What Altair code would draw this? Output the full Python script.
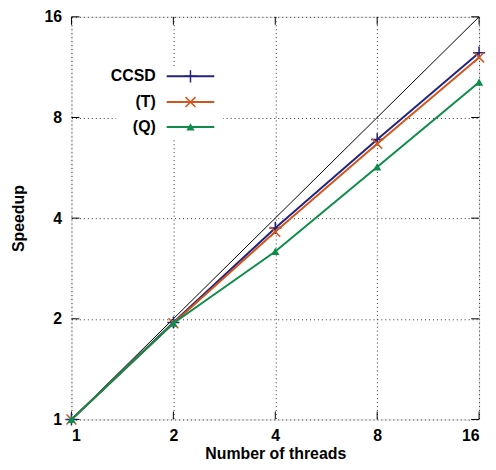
import altair as alt
import pandas as pd

threads = [1, 2, 4, 8, 16]
ccsd = [1.0, 1.95, 3.74, 6.88, 12.5]
t_vals = [1.0, 1.94, 3.64, 6.68, 12.1]
q_vals = [1.0, 1.94, 3.18, 5.69, 10.2]
series_names = ["CCSD", "(T)", "(Q)"]
series_values = [ccsd, t_vals, q_vals]
colors = ["#24247e", "#d2561c", "#0e8c4a"]
ideal_x = [1, 16]
ideal_y = [1, 16]
tick_values = [1, 2, 4, 8, 16]

W, H = 411, 406
FONT = "Liberation Sans"

plus_path = "M-1,0L1,0M0,-1L0,1"
x_path = "M-1,-1L1,1M-1,1L1,-1"
shapes = [plus_path, x_path, "triangle-up"]
filled = [False, False, True]
sizes = [150, 100, 70]

xscale = alt.Scale(type="log", base=2, domain=[1, 16], nice=False)
yscale = alt.Scale(type="log", base=2, domain=[1, 16], nice=False)

common_axis = dict(values=tick_values, format="d", grid=True, gridDash=[1, 3],
                   gridColor="#333", gridWidth=1, tickSize=0, domain=False,
                   labelFont=FONT, labelFontSize=16, labelFontWeight="bold",
                   labelColor="black", titleFont=FONT, titleFontSize=16,
                   titleFontWeight="bold", titleColor="black")

xaxis = alt.Axis(title="Number of threads", labelPadding=8, titlePadding=2, **common_axis)
yaxis = alt.Axis(title="Speedup", labelPadding=10, titlePadding=18, **common_axis)

ideal_df = pd.DataFrame({"threads": ideal_x, "speedup": ideal_y})
base_ideal = alt.Chart(ideal_df).mark_line(color="black", strokeWidth=1).encode(
    x=alt.X("threads:Q", scale=xscale, axis=xaxis),
    y=alt.Y("speedup:Q", scale=yscale, axis=yaxis),
)

layers = [base_ideal]

# tick marks (inward, gnuplot style)
ytick_df = pd.DataFrame({"speedup": tick_values})
xtick_df = pd.DataFrame({"threads": tick_values})
layers.append(alt.Chart(ytick_df).mark_rule(color="black", strokeWidth=1).encode(
    y=alt.Y("speedup:Q", scale=yscale), x=alt.value(0), x2=alt.value(8)))
layers.append(alt.Chart(ytick_df).mark_rule(color="black", strokeWidth=1).encode(
    y=alt.Y("speedup:Q", scale=yscale), x=alt.value(W - 8), x2=alt.value(W)))
layers.append(alt.Chart(xtick_df).mark_rule(color="black", strokeWidth=1).encode(
    x=alt.X("threads:Q", scale=xscale), y=alt.value(H - 8), y2=alt.value(H)))
layers.append(alt.Chart(xtick_df).mark_rule(color="black", strokeWidth=1).encode(
    x=alt.X("threads:Q", scale=xscale), y=alt.value(0), y2=alt.value(8)))

for name, vals, col, shp, fl, sz in zip(series_names, series_values, colors, shapes, filled, sizes):
    df = pd.DataFrame({"threads": threads, "speedup": vals})
    layers.append(alt.Chart(df).mark_line(color=col, strokeWidth=2).encode(
        x=alt.X("threads:Q", scale=xscale), y=alt.Y("speedup:Q", scale=yscale)))
    layers.append(alt.Chart(df).mark_point(color=col, shape=shp, filled=fl, size=sz,
                                           strokeWidth=1.5, opacity=1).encode(
        x=alt.X("threads:Q", scale=xscale), y=alt.Y("speedup:Q", scale=yscale)))

# legend (gnuplot style: label left, sample right) on white box
box_df = pd.DataFrame({"k": [0]})
layers.append(alt.Chart(box_df).mark_rect(color="white").encode(
    x=alt.value(45), x2=alt.value(153), y=alt.value(50), y2=alt.value(123)))
row_y = [60, 86, 111]
for name, col, shp, fl, sz, ry in zip(series_names, colors, shapes, filled, sizes, row_y):
    ldf = pd.DataFrame({"label": [name]})
    layers.append(alt.Chart(ldf).mark_text(align="right", baseline="middle", font=FONT,
                                           fontSize=16, fontWeight="bold", color="black").encode(
        text="label:N", x=alt.value(85), y=alt.value(ry)))
    layers.append(alt.Chart(ldf).mark_rule(color=col, strokeWidth=2).encode(
        x=alt.value(96), x2=alt.value(144), y=alt.value(ry)))
    layers.append(alt.Chart(ldf).mark_point(color=col, shape=shp, filled=fl, size=sz,
                                            strokeWidth=1.5, opacity=1).encode(
        x=alt.value(120), y=alt.value(ry)))

chart = alt.layer(*layers).properties(
    width=W, height=H,
    autosize=alt.AutoSizeParams(type="none"),
    padding={"left": 64, "top": 7, "right": 9, "bottom": 41},
).configure_view(stroke="black", strokeWidth=2).configure(background="white")

chart.save("out.html", embed_options={"renderer": "svg", "actions": False})
